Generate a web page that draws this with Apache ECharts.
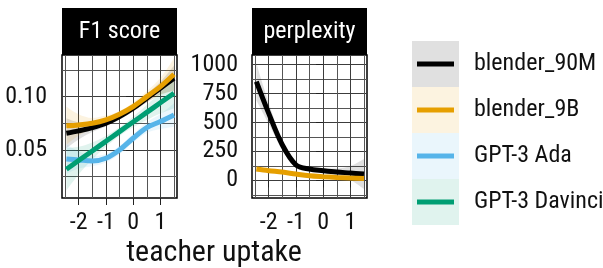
<!DOCTYPE html>
<html>
<head>
<meta charset="utf-8">
<script src="https://cdn.jsdelivr.net/npm/echarts@6/dist/echarts.min.js"></script>
<style>
  html, body { margin: 0; padding: 0; background: #fff; }
  #chart { width: 603px; height: 268px; }
</style>
</head>
<body>
<div id="chart"></div>
<script>
const FONT = "'Liberation Sans Narrow', 'Roboto Condensed', 'DejaVu Sans Condensed', Roboto, sans-serif";

// series / legend
const seriesNames = ["blender_90M", "blender_9B", "GPT-3 Ada", "GPT-3 Davinci"];
const seriesColors = ["#000000", "#E69F00", "#56B4E9", "#009E73"];
const panelTitles = ["F1 score", "perplexity"];

// teacher uptake positions where the smooth curves were read
const uptake = [-2.45, -2, -1.5, -1, -0.5, 0, 0.5, 1, 1.5];

// F1 score: fitted values and half width of the confidence band
const f1Blender90M = [0.0657, 0.0679, 0.0709, 0.0750, 0.0813, 0.0891, 0.0985, 0.1079, 0.1172];
const f1Blender9B = [0.0728, 0.0735, 0.0750, 0.0782, 0.0835, 0.0906, 0.1000, 0.1094, 0.1210];
const f1Ada = [0.0416, 0.0407, 0.0397, 0.0423, 0.0500, 0.0610, 0.0710, 0.0766, 0.0828];
const f1Davinci = [0.0320, 0.0401, 0.0491, 0.0581, 0.0672, 0.0762, 0.0852, 0.0942, 0.1032];
const f1SeBlender90M = [0.014, 0.008, 0.004, 0.003, 0.003, 0.003, 0.004, 0.006, 0.012];
const f1SeBlender9B = [0.018, 0.010, 0.005, 0.004, 0.003, 0.004, 0.005, 0.008, 0.015];
const f1SeAda = [0.014, 0.008, 0.005, 0.004, 0.004, 0.004, 0.005, 0.007, 0.011];
const f1SeDavinci = [0.020, 0.013, 0.008, 0.005, 0.004, 0.005, 0.007, 0.010, 0.014];

// perplexity (only the blender models)
const pplBlender90M = [853, 581, 308, 135, 98, 84, 72, 64, 55];
const pplBlender9B = [98, 84, 72, 55, 40, 32, 26, 21, 17];
const pplSeBlender90M = [160, 90, 45, 25, 20, 20, 30, 60, 130];
const pplSeBlender9B = [25, 12, 8, 6, 5, 5, 6, 10, 20];

// ticks
const xTicks = [-2, -1, 0, 1];
const xMinorTicks = [-2.5, -1.5, -0.5, 0.5, 1.5];
const f1Ticks = [0.05, 0.10];
const f1MinorTicks = [0.025, 0.075, 0.125];
const pplTicks = [0, 250, 500, 750, 1000];
const pplMinorTicks = [-125, 125, 375, 625, 875];

const panels = [
  {
    title: panelTitles[0],
    left: 62,
    yMin: 0.005, yMax: 0.139,
    yTicks: f1Ticks, yMinor: f1MinorTicks,
    yFmt: v => v.toFixed(2),
    labelMargin: 15,
    fits: [f1Blender90M, f1Blender9B, f1Ada, f1Davinci],
    ses: [f1SeBlender90M, f1SeBlender9B, f1SeAda, f1SeDavinci]
  },
  {
    title: panelTitles[1],
    left: 252,
    yMin: -152, yMax: 1083,
    yTicks: pplTicks, yMinor: pplMinorTicks,
    yFmt: v => String(v),
    labelMargin: 14,
    fits: [pplBlender90M, pplBlender9B],
    ses: [pplSeBlender90M, pplSeBlender9B]
  }
];

const TOP = 55, W = 115, H = 143;
const X_MIN = -2.61, X_MAX = 1.61;
const GRID_MAJOR = "#3c3c3c", GRID_MINOR = "#555";

const grids = [], xAxes = [], yAxes = [], bands = [], lines = [], graphics = [];

panels.forEach((p, g) => {
  grids.push({
    left: p.left, top: TOP, width: W, height: H,
    show: true, borderColor: "#000", borderWidth: 1.5, backgroundColor: "#fff",
    containLabel: false, outerBoundsMode: "none"
  });

  xAxes[g] = {
    type: "value", gridIndex: g, min: X_MIN, max: X_MAX,
    axisLine: { show: false },
    axisTick: { show: true, length: 7, customValues: xTicks, lineStyle: { color: "#222", width: 1 } },
    axisLabel: { customValues: xTicks, formatter: v => String(v), color: "#111", fontSize: 24, fontFamily: FONT, margin: 13 },
    splitLine: { show: true, lineStyle: { color: GRID_MAJOR, width: 1 } }
  };
  xAxes[g + 2] = {
    type: "value", gridIndex: g, position: "top", min: X_MIN, max: X_MAX,
    axisLine: { show: false },
    axisTick: { show: false, customValues: xMinorTicks },
    axisLabel: { show: false },
    splitLine: { show: true, lineStyle: { color: GRID_MINOR, width: 1 } }
  };
  yAxes[g] = {
    type: "value", gridIndex: g, min: p.yMin, max: p.yMax,
    axisLine: { show: false },
    axisTick: { show: true, length: 7, customValues: p.yTicks, lineStyle: { color: "#222", width: 1 } },
    axisLabel: { customValues: p.yTicks, formatter: p.yFmt, color: "#111", fontSize: 24, fontFamily: FONT, margin: p.labelMargin },
    splitLine: { show: true, lineStyle: { color: GRID_MAJOR, width: 1 } }
  };
  yAxes[g + 2] = {
    type: "value", gridIndex: g, position: "right", min: p.yMin, max: p.yMax,
    axisLine: { show: false },
    axisTick: { show: false, customValues: p.yMinor },
    axisLabel: { show: false },
    splitLine: { show: true, lineStyle: { color: GRID_MINOR, width: 1 } }
  };

  p.fits.forEach((fit, s) => {
    const se = p.ses[s];
    const color = seriesColors[s];
    const stackId = "band" + g + "_" + s;
    // value column first so the stack runs on y, not on x
    bands.push({
      type: "line", xAxisIndex: g, yAxisIndex: g, stack: stackId, stackStrategy: "all",
      data: uptake.map((x, i) => [fit[i] - se[i], x]),
      encode: { x: 1, y: 0 },
      smooth: 0.35, symbol: "none", silent: true,
      lineStyle: { opacity: 0 }, z: 2
    });
    bands.push({
      type: "line", xAxisIndex: g, yAxisIndex: g, stack: stackId, stackStrategy: "all",
      data: uptake.map((x, i) => [2 * se[i], x]),
      encode: { x: 1, y: 0 },
      smooth: 0.35, symbol: "none", silent: true,
      lineStyle: { opacity: 0 }, areaStyle: { color: color, opacity: 0.12 }, z: 2
    });
    lines.push({
      name: seriesNames[s], type: "line", xAxisIndex: g, yAxisIndex: g,
      data: uptake.map((x, i) => [x, fit[i]]),
      smooth: 0.35, symbol: "none", silent: true, color: color,
      lineStyle: { color: color, width: 5 }, z: 3
    });
  });

  // facet strip
  graphics.push({ type: "rect", shape: { x: p.left, y: 8, width: W, height: 47 }, style: { fill: "#000" } });
  graphics.push({
    type: "text", x: p.left + W / 2, y: 32,
    style: { text: p.title, fill: "#fff", font: "24px " + FONT, align: "center", verticalAlign: "middle", textAlign: "center", textVerticalAlign: "middle" }
  });
});

// axis title
graphics.push({
  type: "text", x: 214, y: 253,
  style: { text: "teacher uptake", fill: "#111", font: "30px " + FONT, align: "center", verticalAlign: "middle", textAlign: "center", textVerticalAlign: "middle" }
});

// legend: key boxes with ribbon fill, line and label
seriesNames.forEach((name, i) => {
  const y0 = 41 + 46 * i;
  graphics.push({ type: "rect", shape: { x: 412, y: y0, width: 47, height: 46 }, style: { fill: seriesColors[i], opacity: 0.12 } });
  graphics.push({ type: "line", shape: { x1: 417, y1: y0 + 23, x2: 454, y2: y0 + 23 }, style: { stroke: seriesColors[i], lineWidth: 5 } });
  graphics.push({
    type: "text", x: 474, y: y0 + 23,
    style: { text: name, fill: "#111", font: "24px " + FONT, align: "left", verticalAlign: "middle", textAlign: "left", textVerticalAlign: "middle" }
  });
});

const chart = echarts.init(document.getElementById("chart"), null, { renderer: "canvas" });
chart.setOption({
  animation: false,
  backgroundColor: "#fff",
  grid: grids,
  xAxis: xAxes,
  yAxis: yAxes,
  series: bands.concat(lines),
  graphic: graphics
});
</script>
</body>
</html>
